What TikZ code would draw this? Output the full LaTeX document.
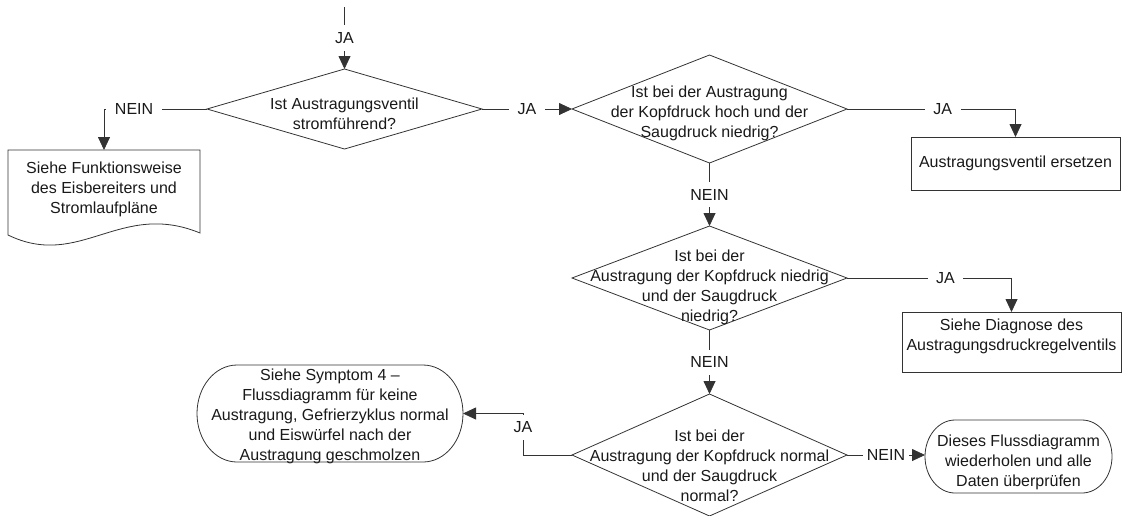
\documentclass[tikz,border=0pt]{standalone}
\usepackage{fontspec}
\setmainfont{Liberation Sans}
\usetikzlibrary{shapes.geometric,arrows.meta}

\begin{document}
\begin{tikzpicture}[x=1pt,y=-1pt,font=\fontsize{16}{20}\selectfont] % диаграмма
\tikzstyle{conn} = [draw=black!80, line width=0.8pt] % линии
\tikzstyle{arr} = [conn, -{Triangle[length=13pt,width=12pt]}] % стрелка
\tikzstyle{txt} = [align=center, text=black!90, inner sep=0pt] % текст внутри фигур
\tikzstyle{ja} = [fill=white, text=black!90, inner xsep=8.5pt, inner ysep=7pt] % подпись на линии
\tikzstyle{decision} = [diamond, conn, minimum width=275pt, inner sep=0pt, outer sep=0pt] % ромб
\tikzstyle{block} = [rectangle, conn, inner sep=0pt, outer sep=0pt] % прямоугольник
\tikzstyle{frame} = [rectangle, inner sep=0pt, outer sep=0pt] % рамка рисуется отдельно

\useasboundingbox (0,0) rectangle (1126,515);

\coordinate (start) at (344.5,7);
\coordinate (j4) at (523,455);

\node[decision, minimum height=80pt, label={[txt,yshift=-4.5pt]center:{Ist Austragungsventil\\stromführend?}}] (d1) at (344.5,109) {};
\node[decision, minimum height=108pt, label={[txt,yshift=-4pt]center:{Ist bei der Austragung\\der Kopfdruck hoch und der\\Saugdruck niedrig?}}] (d2) at (709.5,109) {};
\node[decision, minimum height=104pt, label={[txt,yshift=-9.5pt]center:{Ist bei der\\Austragung der Kopfdruck niedrig\\und der Saugdruck\\niedrig?}}] (d3) at (709.5,278) {};
\node[decision, minimum height=122pt, label={[txt,yshift=-11pt]center:{Ist bei der\\Austragung der Kopfdruck normal\\und der Saugdruck\\normal?}}] (d4) at (709.5,455) {};

\node[frame, minimum width=192pt, minimum height=85pt, label={[txt,yshift=3.5pt]center:{Siehe Funktionsweise\\des Eisbereiters und\\Stromlaufpläne}}] (doc) at (104,192.5) {};
\draw[conn] (doc.north west) -- (doc.north east) -- ([yshift=2pt]doc.south east)
    .. controls (120,200) and (80,270) .. (doc.south west) -- cycle; % волнистый низ

\node[block, minimum width=209pt, minimum height=53pt, label={[txt]center:Austragungsventil ersetzen}] (ersetzen) at (1015.5,163.5) {};
\node[block, minimum width=219pt, minimum height=60pt, label={[txt,yshift=6pt]center:{Siehe Diagnose des\\Austragungsdruckregelventils}}] (diagnose) at (1011.5,342) {};

\node[frame, minimum width=266pt, minimum height=97pt, label={[txt,yshift=-2.5pt]center:{Siehe Symptom 4 \textendash\\Flussdiagramm für keine\\Austragung, Gefrierzyklus normal\\und Eiswürfel nach der\\Austragung geschmolzen}}] (symptom) at (330,413.5) {};
\draw[conn] ([xshift=40pt]symptom.north west) -- ([xshift=-40pt]symptom.north east)
    arc[start angle=90, end angle=-90, x radius=40pt, y radius=48.5pt] -- ([xshift=40pt]symptom.south west)
    arc[start angle=270, end angle=90, x radius=40pt, y radius=48.5pt] -- cycle; % овальные концы
\node[frame, minimum width=187pt, minimum height=73pt, label={[txt,yshift=-5.5pt]center:{Dieses Flussdiagramm\\wiederholen und alle\\Daten überprüfen}}] (wiederholen) at (1018.5,456.5) {};
\draw[conn] ([xshift=30pt]wiederholen.north west) -- ([xshift=-30pt]wiederholen.north east)
    arc[start angle=90, end angle=-90, x radius=30pt, y radius=36.5pt] -- ([xshift=30pt]wiederholen.south west)
    arc[start angle=270, end angle=90, x radius=30pt, y radius=36.5pt] -- cycle;

\draw[arr] (start) -- node[ja] {JA} (d1.north);
\draw[arr] (d1.west) -| node[ja, pos=0.354] {NEIN} (doc.north);
\draw[arr] (d1.east) -- node[ja] {JA} (d2.west);
\draw[arr] (d2.east) -| node[ja, pos=0.284] {JA} (ersetzen.north);
\draw[arr] (d2.south) -- node[ja] {NEIN} (d3.north);
\draw[arr] (d3.east) -| node[ja, pos=0.299] {JA} (diagnose.north);
\draw[arr] (d3.south) -- node[ja] {NEIN} (d4.north);
\draw[arr] (d4.east) -- node[ja, inner xsep=4pt] {NEIN} (d4.east -| wiederholen.west);
\draw[arr] (d4.west) -- (j4) |- node[ja, pos=0.335] {JA} (symptom.east);
\end{tikzpicture}
\end{document}
